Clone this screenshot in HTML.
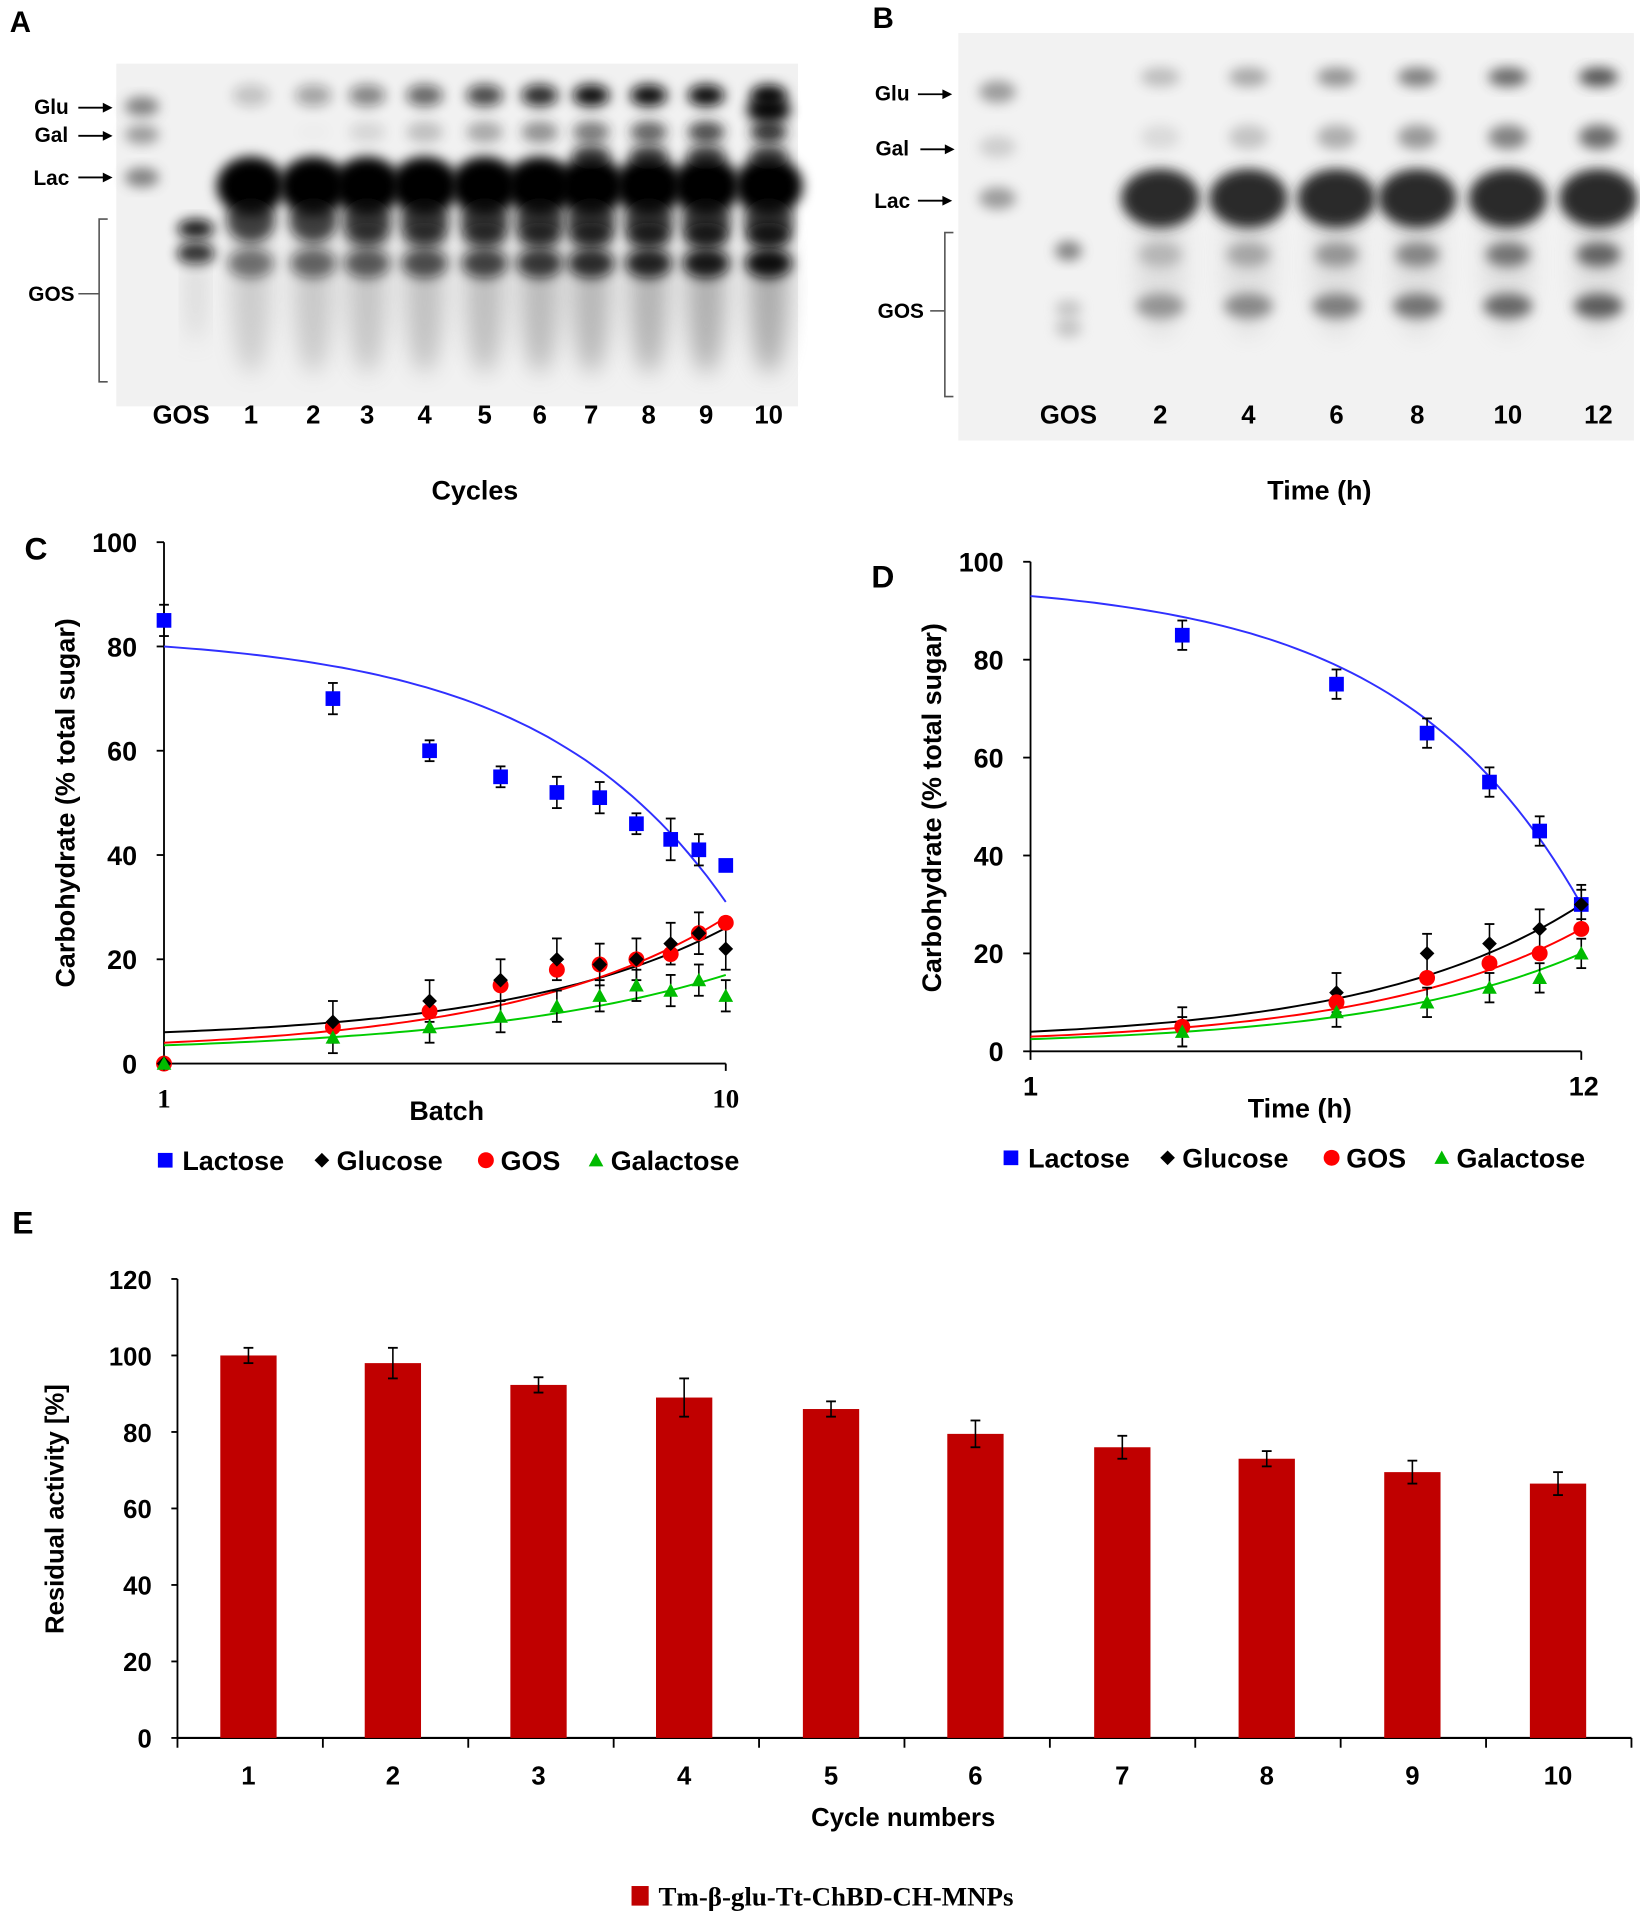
<!DOCTYPE html>
<html><head><meta charset="utf-8">
<style>
html,body{margin:0;padding:0;background:#fff;width:1640px;height:1921px;overflow:hidden}
svg{display:block}
text{font-family:"Liberation Sans",Arial,sans-serif;font-weight:bold}
</style></head>
<body>
<svg id="s" width="1640" height="1921" viewBox="0 0 1640 1921" xmlns="http://www.w3.org/2000/svg">
<defs>
<filter id="b1" x="-50%" y="-50%" width="200%" height="200%"><feGaussianBlur stdDeviation="5"/></filter>
<filter id="b2" x="-50%" y="-50%" width="200%" height="200%"><feGaussianBlur stdDeviation="9"/></filter>
</defs>
<g id="g" transform="scale(1.2239)"></g>
</svg>
<script>
var G=document.getElementById('g'),o='';
function T(x,y,s,t,sz,a,c,extra){o+='<text x="'+x+'" y="'+y+'" font-size="'+sz+'" text-anchor="'+(a||'middle')+'" fill="'+(c||'#000')+'" '+(extra||'')+'>'+t+'</text>';}
function E(x,y,rx,ry,c,op,f){o+='<ellipse cx="'+x+'" cy="'+y+'" rx="'+rx+'" ry="'+ry+'" fill="'+c+'" opacity="'+op+'" filter="url(#'+(f||'b1')+')"/>';}
function L(x1,y1,x2,y2,c,w){o+='<line x1="'+x1+'" y1="'+y1+'" x2="'+x2+'" y2="'+y2+'" stroke="'+(c||'#000')+'" stroke-width="'+(w||1.5)+'"/>';}
function arrow(x1,x2,y){L(x1,y,x2-6,y,'#000',1.5);o+='<polygon points="'+(x2-8)+','+(y-4)+' '+x2+','+y+' '+(x2-8)+','+(y+4)+'" fill="#000"/>';}

/* ---- Panel A ---- */
T(8,26,0,'A',24,'start');
o+='<rect x="95" y="52" width="557" height="280" fill="#f1f1f1"/>';
E(116,87,14,8,'#666',.8);E(116,110,14,8,'#777',.7);E(116,145,14,8,'#666',.8);
E(160,187,15,8,'#111',.95);E(160,207,15,9,'#111',.95);E(160,240,7,40,'#bbb',.5,'b2');
var la=[205,256,300,347,396,441,483,530,577,628];
la.forEach(function(x,i){
 var k=i/9;
 E(x,235,16,70,'#888',.35+0.3*k,'b2');
 E(x,152,28,24,'#000',1);
 E(x,180,20,18,'#111',.75);
 E(x,215,19,12,'#111',.5+0.5*k);
 if(i>=2)E(x,192,18,10,'#111',.3+0.6*k);
 E(x,78,15,9,'#111',.2+0.8*Math.min(1,k*1.5));
 E(x,108,15,9,'#222',Math.max(0,-0.1+1.0*k));
 if(i>=6)E(x,128,16,10,'#111',.7);
});
E(628,90,18,11,'#000',.95);
T(42,93,0,'Glu',17,'middle');arrow(64,92,88);
T(42,116,0,'Gal',17,'middle');arrow(64,92,111);
T(42,151,0,'Lac',17,'middle');arrow(64,92,145);
o+='<path d="M88,179 H81 V312 H88" fill="none" stroke="#555" stroke-width="1.3"/>';
T(42,246,0,'GOS',17,'middle');L(64,240,81,240,'#555',1.3);
T(148,346,0,'GOS',21);
la.forEach(function(x,i){T(x,346,0,String(i+1),21);});
T(388,408,0,'Cycles',22);

/* ---- Panel B ---- */
T(713,23,0,'B',24,'start');
o+='<rect x="783" y="27" width="552" height="333" fill="#f2f2f2"/>';
E(815,75,15,9,'#777',.7);E(815,120,15,9,'#aaa',.5);E(815,162,15,9,'#777',.7);
E(873,205,11,8,'#555',.7);E(873,252,11,7,'#999',.5);E(873,268,11,8,'#999',.5);
var lb=[948,1020,1092,1158,1232,1306];
lb.forEach(function(x,i){var k=i/5;
 E(x,215,20,60,'#bbb',.35,'b2');
 E(x,162,32,24,'#2a2a2a',1);
 E(x,63,16,8,'#444',.3+0.6*k);
 E(x,112,16,10,'#555',.15+0.7*k);
 E(x,208,18,10,'#555',.3+0.6*k);
 E(x,250,20,10,'#555',.55+0.4*k);
});
T(729,82,0,'Glu',17);arrow(750,778,77);
T(729,127,0,'Gal',17);arrow(752,780,122);
T(729,170,0,'Lac',17);arrow(750,778,164);
o+='<path d="M779,190 H772 V324 H779" fill="none" stroke="#555" stroke-width="1.3"/>';
T(736,260,0,'GOS',17);L(760,254,772,254,'#555',1.3);
T(873,346,0,'GOS',21);
['2','4','6','8','10','12'].forEach(function(t,i){T(lb[i],346,0,t,21);});
T(1078,408,0,'Time (h)',22);

/* ---- line charts ---- */
function mark(type,x,y,c){
 if(type=='s')o+='<rect x="'+(x-6)+'" y="'+(y-6)+'" width="12" height="12" fill="'+c+'"/>';
 else if(type=='d')o+='<polygon points="'+x+','+(y-6)+' '+(x+6)+','+y+' '+x+','+(y+6)+' '+(x-6)+','+y+'" fill="'+c+'"/>';
 else if(type=='c')o+='<circle cx="'+x+'" cy="'+y+'" r="6.5" fill="'+c+'"/>';
 else o+='<polygon points="'+x+','+(y-6)+' '+(x+6)+','+(y+5)+' '+(x-6)+','+(y+5)+'" fill="'+c+'"/>';
}
function ebar(x,y1,y2){L(x,y1,x,y2,'#000',1.3);L(x-4,y1,x+4,y1,'#000',1.5);L(x-4,y2,x+4,y2,'#000',1.5);}
function curve(x0,x1,v0,v1,a,Y,c){var d='';for(var i=0;i<=60;i++){var t=i/60;var v=v0+(v1-v0)*(Math.exp(a*t)-1)/(Math.exp(a)-1);d+=(i?'L':'M')+(x0+(x1-x0)*t).toFixed(1)+','+Y(v).toFixed(1);}o+='<path d="'+d+'" fill="none" stroke="'+c+'" stroke-width="1.6"/>';}
function legend(x,y){
 mark('s',x,y,'#0000ff');T(x+14,y+8,0,'Lactose',22,'start');
 mark('d',x+128,y,'#000');T(x+140,y+8,0,'Glucose',22,'start');
 mark('c',x+262,y,'#ff0000');T(x+274,y+8,0,'GOS',22,'start');
 mark('t',x+352,y,'#00bb00');T(x+364,y+8,0,'Galactose',22,'start');
}
/* C */
T(20,457,0,'C',26,'start');
var YC=function(v){return 869-v*4.26;};
L(134,443,134,869);L(134,869,593,869);
[0,20,40,60,80,100].forEach(function(v){L(128,YC(v),134,YC(v));T(112,YC(v)+8,0,String(v),22,'end');});
L(593,869,593,875);
o+='<text x="134" y="905" font-size="22" text-anchor="middle" style="font-family:\'Liberation Serif\',serif;font-weight:bold">1</text>';
o+='<text x="593" y="905" font-size="22" text-anchor="middle" style="font-family:\'Liberation Serif\',serif;font-weight:bold">10</text>';
T(365,915,0,'Batch',22);
T(0,0,0,'Carbohydrate (% total sugar)',22,'middle','#000','transform="translate(61,656) rotate(-90)"');
var xc=[134,272,351,409,455,490,520,548,571,593];
var cLac=[85,70,60,55,52,51,46,43,41,38],eLac=[3,3,2,2,3,3,2,4,3,0];
var cGlu=[0,8,12,16,20,19,20,23,25,22],cGos=[0,7,10,15,18,19,20,21,25,27],cGal=[0,5,7,9,11,13,15,14,16,13];
curve(134,593,80,31,3,YC,'#3030ff');
curve(134,593,6,26,2.6,YC,'#000');curve(134,593,4,28,2.6,YC,'#ff0000');curve(134,593,3.5,17,2.2,YC,'#00cc00');
xc.forEach(function(x,i){
 if(i>0){ebar(x,YC(cGlu[i]+4),YC(cGlu[i]-4));ebar(x,YC(cGal[i]+3),YC(cGal[i]-3));}
 if(eLac[i])ebar(x,YC(cLac[i]+eLac[i]),YC(cLac[i]-eLac[i]));
 mark('s',x,YC(cLac[i]),'#0000ff');mark('c',x,YC(cGos[i]),'#ff0000');mark('d',x,YC(cGlu[i]),'#000');mark('t',x,YC(cGal[i]),'#00bb00');
});
legend(135,948);
/* D */
T(712,480,0,'D',26,'start');
var YD=function(v){return 859-v*4.0;};
L(842,459,842,859);L(842,859,1292,859);
[0,20,40,60,80,100].forEach(function(v){L(836,YD(v),842,YD(v));T(820,YD(v)+8,0,String(v),22,'end');});
L(842,859,842,866);L(1292,859,1292,866);
T(842,895,0,'1',22);T(1294,895,0,'12',22);
T(1062,913,0,'Time (h)',22);
T(0,0,0,'Carbohydrate (% total sugar)',22,'middle','#000','transform="translate(769,660) rotate(-90)"');
var xd=[966,1092,1166,1217,1258,1292];
var dLac=[85,75,65,55,45,30],dGlu=[5,12,20,22,25,30],dGos=[5,10,15,18,20,25],dGal=[4,8,10,13,15,20];
curve(842,1292,93,30,3,YD,'#3030ff');
curve(842,1292,4,30,2.6,YD,'#000');curve(842,1292,3,25,2.6,YD,'#ff0000');curve(842,1292,2.5,20,2.6,YD,'#00cc00');
xd.forEach(function(x,i){
 ebar(x,YD(dLac[i]+3),YD(dLac[i]-3));ebar(x,YD(dGlu[i]+4),YD(dGlu[i]-4));ebar(x,YD(dGal[i]+3),YD(dGal[i]-3));
 mark('s',x,YD(dLac[i]),'#0000ff');mark('d',x,YD(dGlu[i]),'#000');mark('c',x,YD(dGos[i]),'#ff0000');mark('t',x,YD(dGal[i]),'#00bb00');
});
legend(826,946);

/* ---- Panel E ---- */
T(10,1008,0,'E',26,'start');
var YE=function(v){return 1420-v*3.125;};
L(145,1045,145,1420);L(145,1420,1333,1420,'#000',1.8);
for(var v=0;v<=120;v+=20){L(140,YE(v),145,YE(v));T(124,YE(v)+8,0,String(v),21,'end');}
var bx=[203,321,440,559,679,797,917,1035,1154,1273];
var bv=[100,98,92.3,89,86,79.5,76,73,69.5,66.5],be=[2,4,2,5,2,3.5,3,2,3,3];
for(var i=0;i<=10;i++){var tx=145+i*118.8;L(tx,1420,tx,1428);}
bx.forEach(function(x,i){
 o+='<rect x="'+(x-23)+'" y="'+YE(bv[i])+'" width="46" height="'+(1420-YE(bv[i]))+'" fill="#c00000"/>';
 ebar(x,YE(bv[i]+be[i]),YE(bv[i]-be[i]));
 T(x,1458,0,String(i+1),21);
});
T(738,1492,0,'Cycle numbers',21);
T(0,0,0,'Residual activity [%]',21,'middle','#000','transform="translate(52,1233) rotate(-90)"');
o+='<rect x="516" y="1541" width="14" height="16" fill="#c00000"/>';
o+='<text x="538" y="1557" font-size="22" style="font-family:\'Liberation Serif\',serif;font-weight:bold">Tm-β-glu-Tt-ChBD-CH-MNPs</text>';
G.innerHTML=o;
</script>
</body></html>
